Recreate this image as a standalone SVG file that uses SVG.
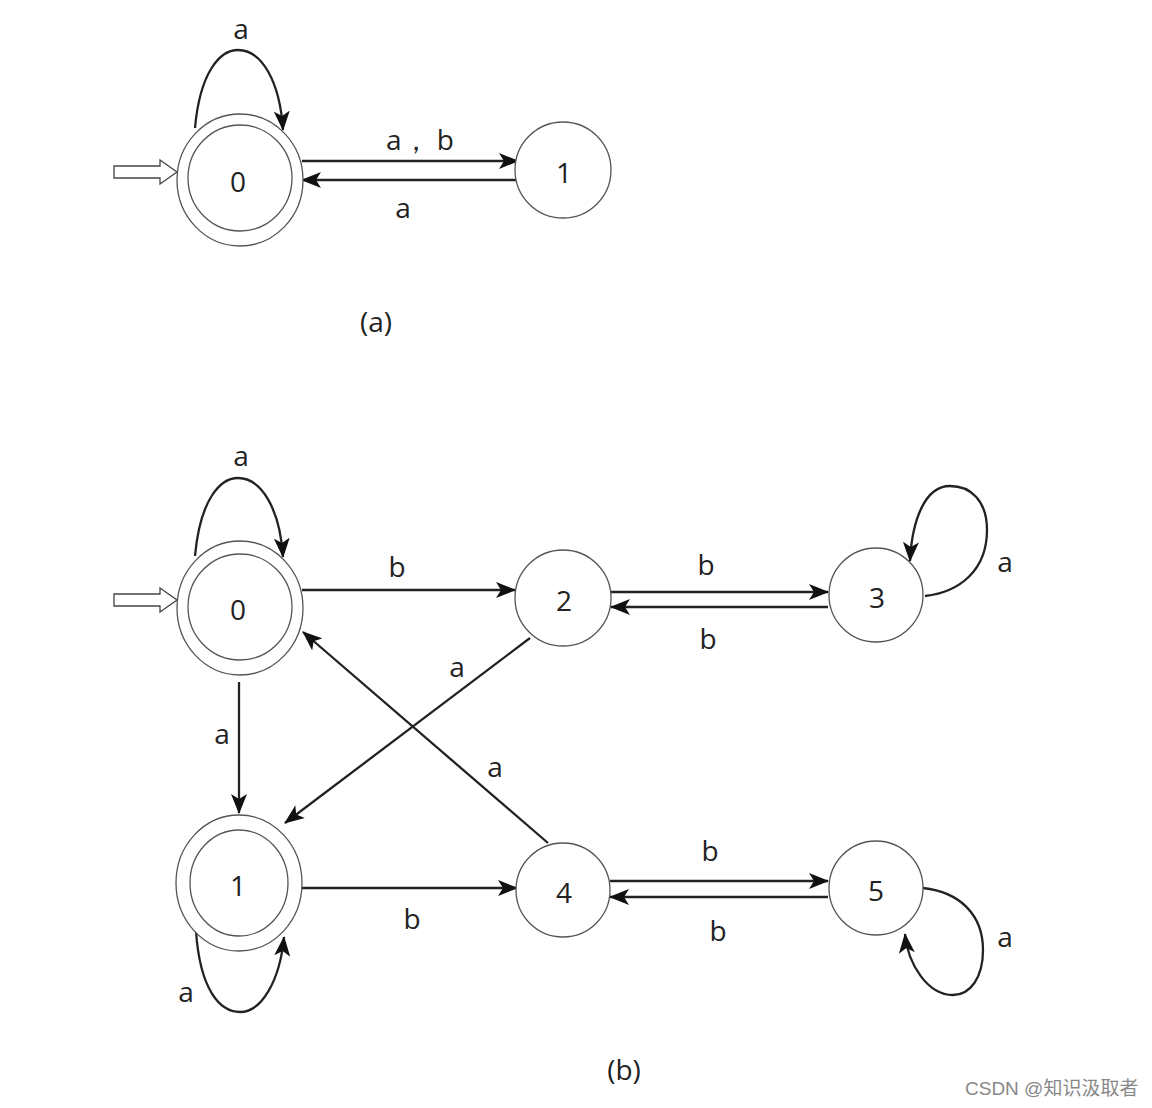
<svg xmlns="http://www.w3.org/2000/svg" width="1152" height="1108" viewBox="0 0 1152 1108">
<defs>
<marker id="ah" markerUnits="userSpaceOnUse" markerWidth="20" markerHeight="16" refX="19" refY="8" orient="auto">
<path d="M0,0 L20,8 L0,16 L5,8 Z" fill="#111"/>
</marker>
</defs>
<style>
.st{fill:#fff;stroke:#555;stroke-width:1.3}
.e{fill:none;stroke:#222;stroke-width:2.3;marker-end:url(#ah)}
.init{fill:#fff;stroke:#444;stroke-width:1.3}
text{font-family:"Open Sans","Liberation Sans",sans-serif;font-size:28px;fill:#222;text-anchor:middle}
.wm{font-family:"Liberation Sans","Noto Sans CJK SC",sans-serif;font-size:19px;fill:#888;text-anchor:start}
</style>
<rect width="1152" height="1108" fill="#fff"/>

<g id="connectors">
<!-- (a) -->
<path class="e" d="M195,128 C200,72 220,50 238,50 C262,50 280,82 283,130"/>
<path class="e" d="M302,161 L518,161"/>
<path class="e" d="M517,180 L302,180"/>
<path class="init" d="M114,166 L160,166 L160,160 L177,172 L160,184 L160,178 L114,178 Z"/>
<!-- (b) -->
<path class="init" d="M114,594 L160,594 L160,588 L177,600 L160,612 L160,606 L114,606 Z"/>
<path class="e" d="M195,556 C200,500 220,478 238,478 C262,478 280,510 283,557"/>
<path class="e" d="M302,590 L515,590"/>
<path class="e" d="M611,592 L828,592"/>
<path class="e" d="M828,607 L611,607"/>
<path class="e" d="M925,596 C960,592 987,570 987,530 C987,500 970,486 950,486 C925,486 912,520 910,561"/>
<path class="e" d="M239,682 L239,813"/>
<path class="e" d="M530,638 L285,823"/>
<path class="e" d="M548,843 L303,632"/>
<path class="e" d="M302,888 L517,888"/>
<path class="e" d="M610,881 L828,881"/>
<path class="e" d="M828,897 L610,897"/>
<path class="e" d="M923,888 C960,892 983,915 983,950 C983,978 970,995 953,995 C928,995 908,965 905,934"/>
<path class="e" d="M196,931 C200,990 220,1012 240,1012 C262,1012 280,980 284,937"/>
</g>

<g id="label-a">
<text x="241" y="39">a</text>
<text x="420" y="150">a， b</text>
<text x="403" y="218">a</text>
<text x="376" y="332">(a)</text>
</g>

<g id="a-node0">
<ellipse class="st" cx="240" cy="180" rx="63" ry="66"/>
<ellipse class="st" cx="240" cy="178" rx="52" ry="53"/>
<text x="238" y="192">0</text>
</g>
<g id="a-node1">
<circle class="st" cx="563" cy="170" r="48"/>
<text x="564" y="183">1</text>
</g>

<g id="labels-b">
<text x="241" y="466">a</text>
<text x="397" y="577">b</text>
<text x="706" y="575">b</text>
<text x="708" y="649">b</text>
<text x="1005" y="572">a</text>
<text x="222" y="744">a</text>
<text x="457" y="677">a</text>
<text x="495" y="777">a</text>
<text x="412" y="929">b</text>
<text x="710" y="861">b</text>
<text x="718" y="941">b</text>
<text x="1005" y="947">a</text>
<text x="186" y="1002">a</text>
<text x="624" y="1080">(b)</text>
</g>

<g id="b-node0">
<ellipse class="st" cx="240" cy="608" rx="63" ry="67"/>
<ellipse class="st" cx="240" cy="607" rx="52" ry="53"/>
<text x="238" y="620">0</text>
</g>
<g id="b-node1">
<ellipse class="st" cx="239" cy="883" rx="63" ry="68"/>
<ellipse class="st" cx="239" cy="883" rx="49" ry="53"/>
<text x="238" y="896">1</text>
</g>
<g id="b-node2">
<circle class="st" cx="563" cy="598" r="48"/>
<text x="564" y="611">2</text>
</g>
<g id="b-node3">
<circle class="st" cx="876" cy="595" r="47"/>
<text x="877" y="608">3</text>
</g>
<g id="b-node4">
<circle class="st" cx="563" cy="890" r="47"/>
<text x="564" y="903">4</text>
</g>
<g id="b-node5">
<circle class="st" cx="876" cy="888" r="47"/>
<text x="876" y="901">5</text>
</g>

<text class="wm" x="965" y="1095">CSDN @知识汲取者</text>
</svg>
